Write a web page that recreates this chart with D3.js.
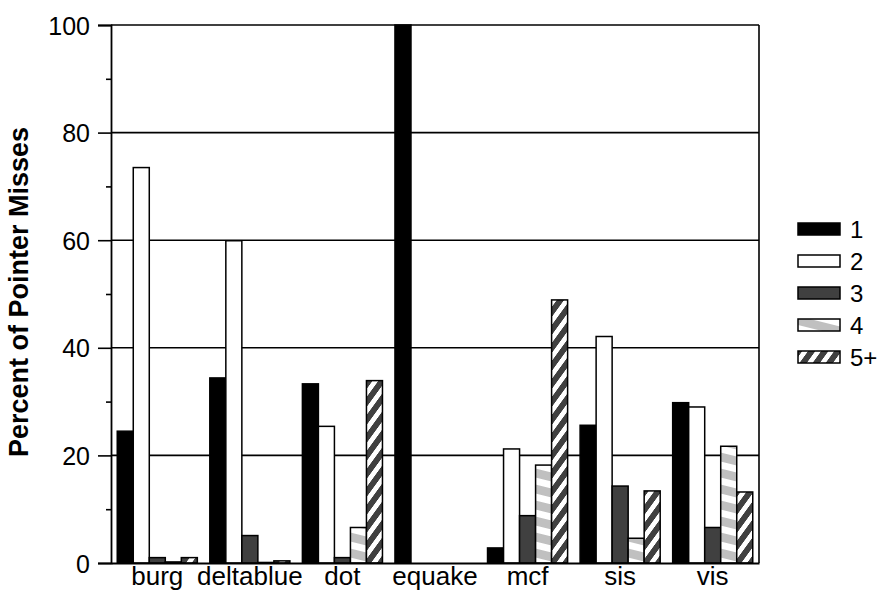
<!DOCTYPE html>
<html>
<head>
<meta charset="utf-8">
<script src="https://cdn.jsdelivr.net/npm/d3@7"></script>
<style>
	body { margin: 0; background: #fff; }
	svg { display: block; font-family: "Liberation Sans", Arial, sans-serif; }
</style>
</head>
<body>
<svg id="chart" width="880" height="590"></svg>
<script>

// Benchmarks along the x axis
var categories = ['burg', 'deltablue', 'dot', 'equake', 'mcf', 'sis', 'vis'];

// Legend entries, one per bar in a group
var seriesNames = ['1', '2', '3', '4', '5+'];

// Percent of pointer misses, one array per series
var series1 = [24.5, 34.4, 33.3, 100, 2.8, 25.6, 29.8];
var series2 = [73.5, 59.9, 25.4, 0, 21.2, 42.1, 29.0];
var series3 = [1.0, 5.1, 1.0, 0, 8.8, 14.3, 6.6];
var series4 = [0.2, 0.1, 6.6, 0, 18.2, 4.6, 21.7];
var series5 = [1.0, 0.4, 33.9, 0, 48.9, 13.4, 13.2];

var yTicks = [0, 20, 40, 60, 80, 100];
var yMinorTicks = [10, 30, 50, 70, 90];

var allSeries = [series1, series2, series3, series4, series5];

var svg = d3.select('#chart');

// note: don't call these top/left globals, window.top is read only
var plotLeft = 111, plotRight = 759, plotTop = 25, plotBottom = 563;

var x0 = d3.scaleBand().domain(categories).range([plotLeft, plotRight]).padding(0);
var x1 = d3.scaleBand().domain(seriesNames).range([0, x0.bandwidth()])
	.paddingInner(0).paddingOuter(0.39);
var y = d3.scaleLinear().domain([0, 100]).range([plotBottom, plotTop]);

// Fill patterns for the striped series
var defs = svg.append('defs');

function stripes(id, bg, skew, period, white) {
	var p = defs.append('pattern')
		.attr('id', id)
		.attr('patternUnits', 'userSpaceOnUse')
		.attr('width', 40)
		.attr('height', period)
		.attr('patternTransform', 'skewY(' + skew + ')');
	p.append('rect').attr('width', 40).attr('height', period).attr('fill', bg);
	p.append('rect').attr('y', 0).attr('width', 40).attr('height', white).attr('fill', '#fff');
}
stripes('pat4', '#c0c0c0', 14, 16, 7);
stripes('pat5', '#404040', -54, 18, 8);

var fills = ['#000', '#fff', '#404040', 'url(#pat4)', 'url(#pat5)'];

// Gridlines first so the bars sit on top of them
svg.append('g')
	.selectAll('line')
	.data(yTicks.filter(function(d){ return d > 0; }))
	.join('line')
	.attr('x1', plotLeft).attr('x2', plotRight)
	.attr('y1', function(d){ return y(d); })
	.attr('y2', function(d){ return y(d); })
	.attr('stroke', '#000')
	.attr('stroke-width', 1.6);

// Right edge of the plot
svg.append('line')
	.attr('x1', plotRight).attr('x2', plotRight)
	.attr('y1', y(100)).attr('y2', y(0))
	.attr('stroke', '#000')
	.attr('stroke-width', 1.6);

// Bars
var groups = svg.append('g')
	.selectAll('g')
	.data(categories)
	.join('g')
	.attr('transform', function(d){ return 'translate(' + x0(d) + ',0)'; });

groups.selectAll('rect')
	.data(function(c, ci){
		return allSeries.map(function(s, si){ return {name: seriesNames[si], index: si, value: s[ci]}; });
	})
	.join('rect')
	.filter(function(d){ return d.value > 0; })
	.attr('x', function(d){ return x1(d.name); })
	.attr('width', x1.bandwidth())
	.attr('y', function(d){ return y(d.value); })
	.attr('height', function(d){ return y(0) - y(d.value); })
	.attr('fill', function(d){ return fills[d.index]; })
	.attr('stroke', '#000')
	.attr('stroke-width', 1.5);

// Y axis with major and minor ticks
var yAxis = svg.append('g')
	.attr('transform', 'translate(' + plotLeft + ',0)')
	.call(d3.axisLeft(y).tickValues(yTicks).tickSize(13).tickPadding(8));

svg.append('g')
	.attr('transform', 'translate(' + plotLeft + ',0)')
	.call(d3.axisLeft(y).tickValues(yMinorTicks).tickSize(5).tickFormat(''))
	.select('.domain').remove();

yAxis.selectAll('text').style('font-size', '25px').attr('fill', '#000').attr('dy', '0.36em');
svg.selectAll('.tick line').attr('stroke', '#000').attr('stroke-width', 1.6);
yAxis.select('.domain').attr('stroke', '#000').attr('stroke-width', 1.8);

// X axis: just the baseline and category names
var xAxis = svg.append('g')
	.attr('transform', 'translate(0,' + plotBottom + ')')
	.call(d3.axisBottom(x0).tickSize(0).tickPadding(4).tickSizeOuter(0));

xAxis.select('.domain').attr('stroke', '#000').attr('stroke-width', 1.8);
xAxis.selectAll('text').style('font-size', '26px').attr('fill', '#000');

// Y axis title
svg.append('text')
	.attr('transform', 'translate(28,292) rotate(-90)')
	.attr('text-anchor', 'middle')
	.style('font-size', '27px')
	.style('font-weight', 'bold')
	.text('Percent of Pointer Misses');

// Legend
var legend = svg.append('g')
	.selectAll('g')
	.data(seriesNames)
	.join('g')
	.attr('transform', function(d, i){ return 'translate(798,' + (229 + i * 32) + ')'; });

legend.append('rect')
	.attr('y', -6)
	.attr('width', 42)
	.attr('height', 12)
	.attr('fill', function(d, i){ return fills[i]; })
	.attr('stroke', '#000')
	.attr('stroke-width', 1.5);

legend.append('text')
	.attr('x', 52)
	.attr('dy', '0.36em')
	.style('font-size', '24px')
	.text(function(d){ return d; });

</script>
</body>
</html>
